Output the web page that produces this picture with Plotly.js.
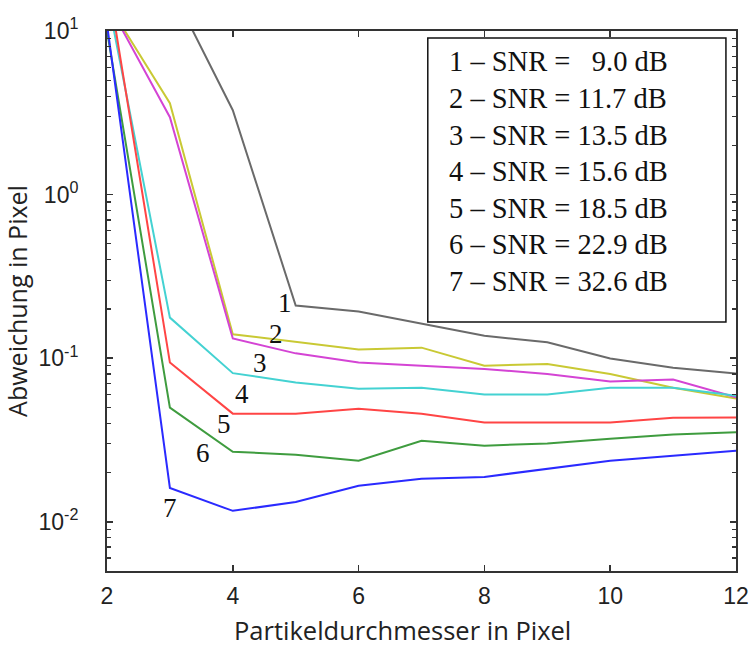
<!DOCTYPE html>
<html>
<head>
<meta charset="utf-8">
<script src="https://cdn.plot.ly/plotly-3.0.1.min.js"></script>
<style>html,body{margin:0;padding:0;background:#fff;}#chart{width:751px;height:647px;}</style>
</head>
<body>
<div id="chart"></div>
<script>
// Particle diameter (pixel)
const diameter = [2, 3, 4, 5, 6, 7, 8, 9, 10, 11, 12];

// Deviation in pixel for each SNR curve
const snr1 = [60, 19, 3.28, 0.21, 0.193, 0.163, 0.137, 0.125, 0.0995, 0.0875, 0.0805];
const snr2 = [15, 3.62, 0.14, 0.126, 0.113, 0.116, 0.090, 0.092, 0.080, 0.066, 0.0566];
const snr3 = [15.1, 2.97, 0.132, 0.107, 0.094, 0.090, 0.086, 0.080, 0.072, 0.074, 0.0577];
const snr4 = [16.6, 0.177, 0.081, 0.071, 0.065, 0.066, 0.060, 0.060, 0.066, 0.066, 0.059];
const snr5 = [21.7, 0.094, 0.0458, 0.0458, 0.049, 0.0458, 0.0405, 0.0405, 0.0405, 0.0432, 0.0434];
const snr6 = [10, 0.0499, 0.0268, 0.0257, 0.0236, 0.0313, 0.0292, 0.0301, 0.0322, 0.0341, 0.0352];
const snr7 = [11, 0.0161, 0.01166, 0.0132, 0.0166, 0.0183, 0.0188, 0.0211, 0.0236, 0.0253, 0.0272];

const curveLabels = ['1', '2', '3', '4', '5', '6', '7'];
const legendLabels = [
  '1 \u2013 SNR = \u00a0\u00a09.0 dB',
  '2 \u2013 SNR = 11.7 dB',
  '3 \u2013 SNR = 13.5 dB',
  '4 \u2013 SNR = 15.6 dB',
  '5 \u2013 SNR = 18.5 dB',
  '6 \u2013 SNR = 22.9 dB',
  '7 \u2013 SNR = 32.6 dB'
];
const xTickVals = [2, 4, 6, 8, 10, 12];
const yTickExponents = [-2, -1, 0, 1];
const xTitle = 'Partikeldurchmesser in Pixel';
const yTitle = 'Abweichung in Pixel';

const series = [snr1, snr2, snr3, snr4, snr5, snr6, snr7];
const colors = ['#6a6a6a', '#c9c934', '#d444d4', '#44d2d2', '#ff4545', '#3f9c3f', '#2a2aff'];

const traces = series.map((ys, i) => ({
  x: diameter,
  y: ys,
  type: 'scatter',
  mode: 'lines',
  line: {color: colors[i], width: 2},
  name: legendLabels[i],
  showlegend: false,
  hoverinfo: 'skip'
}));
// invisible copy of one series bound to the minor-tick overlay axis
traces.push({x: diameter, y: snr4, type: 'scatter', mode: 'lines', line: {width: 0, color: 'rgba(0,0,0,0)'},
  xaxis: 'x', yaxis: 'y2', showlegend: false, hoverinfo: 'skip'});

// minor tick positions: 2..9 within each decade
const minorVals = [];
[-3, -2, -1, 0].forEach(e => { for (let m = 2; m <= 9; m++) minorVals.push(m * Math.pow(10, e)); });

// curve number labels (positions in data coordinates)
const labelPos = [
  [4.83, -0.66], [4.68, -0.85], [4.44, -1.03], [4.15, -1.22],
  [3.86, -1.40], [3.53, -1.58], [3.00, -1.915]
];
const serif = '"Liberation Serif", "Times New Roman", serif';
const sans = '"Open Sans", "Noto Sans", sans-serif';
const annotations = curveLabels.map((t, i) => ({
  x: labelPos[i][0], y: labelPos[i][1], xref: 'x', yref: 'y',
  text: t, showarrow: false,
  font: {family: serif, size: 27, color: '#111'}
}));

// legend box text lines
legendLabels.forEach((t, i) => {
  annotations.push({
    x: 0.54, y: 0.9426 - i * 0.0676, xref: 'paper', yref: 'paper',
    xanchor: 'left', yanchor: 'middle',
    text: t, showarrow: false,
    font: {family: serif, size: 28.5, color: '#111'}
  });
});

// x-axis title (slightly left of centre, as in the reference)
annotations.push({
  x: 0.469, y: -0.109, xref: 'paper', yref: 'paper',
  xanchor: 'center', yanchor: 'middle',
  text: xTitle, showarrow: false,
  font: {family: sans, size: 25.5, color: '#222'}
});

const axisFont = {family: '"Liberation Sans", Arial, sans-serif', size: 23, color: '#222'};
const yRange = [Math.log10(0.005), 1];

const layout = {
  width: 751, height: 647,
  margin: {l: 107, r: 15, t: 31, b: 76},
  paper_bgcolor: '#ffffff',
  plot_bgcolor: '#ffffff',
  showlegend: false,
  xaxis: {
    range: [2, 12],
    tickmode: 'array',
    tickvals: xTickVals,
    ticktext: xTickVals.map(String),
    ticks: 'inside', ticklen: 6, tickwidth: 1.5, tickcolor: '#333',
    showline: true, linecolor: '#333', linewidth: 2, mirror: 'ticks',
    showgrid: false, zeroline: false,
    tickfont: axisFont,
    ticklabelstandoff: 3
  },
  yaxis: {
    type: 'log',
    range: yRange,
    tickmode: 'array',
    tickvals: yTickExponents.map(e => Math.pow(10, e)),
    ticktext: yTickExponents.map(e => '10<sup>' + e + '</sup>'),
    ticks: 'inside', ticklen: 6, tickwidth: 1.5, tickcolor: '#333',
    showline: true, linecolor: '#333', linewidth: 2, mirror: 'ticks',
    showgrid: false, zeroline: false,
    tickfont: axisFont,
    ticklabelstandoff: 22,
    title: {text: yTitle, font: {family: sans, size: 25, color: '#222'}, standoff: 4}
  },
  yaxis2: {
    type: 'log',
    overlaying: 'y',
    anchor: 'x',
    side: 'left',
    range: yRange,
    autorange: false,
    tickmode: 'array',
    tickvals: minorVals,
    showticklabels: false,
    ticks: 'inside', ticklen: 4, tickwidth: 1.2, tickcolor: '#333',
    showline: true, linecolor: '#333', linewidth: 2, mirror: 'ticks',
    showgrid: false, zeroline: false
  },
  shapes: [{
    type: 'rect', xref: 'paper', yref: 'paper',
    x0: 0.510, x1: 0.984, y0: 0.461, y1: 0.987,
    line: {color: '#111', width: 1.5},
    fillcolor: '#ffffff', layer: 'above'
  }],
  annotations: annotations
};

Plotly.newPlot('chart', traces, layout, {displayModeBar: false, staticPlot: true});
</script>
</body>
</html>
